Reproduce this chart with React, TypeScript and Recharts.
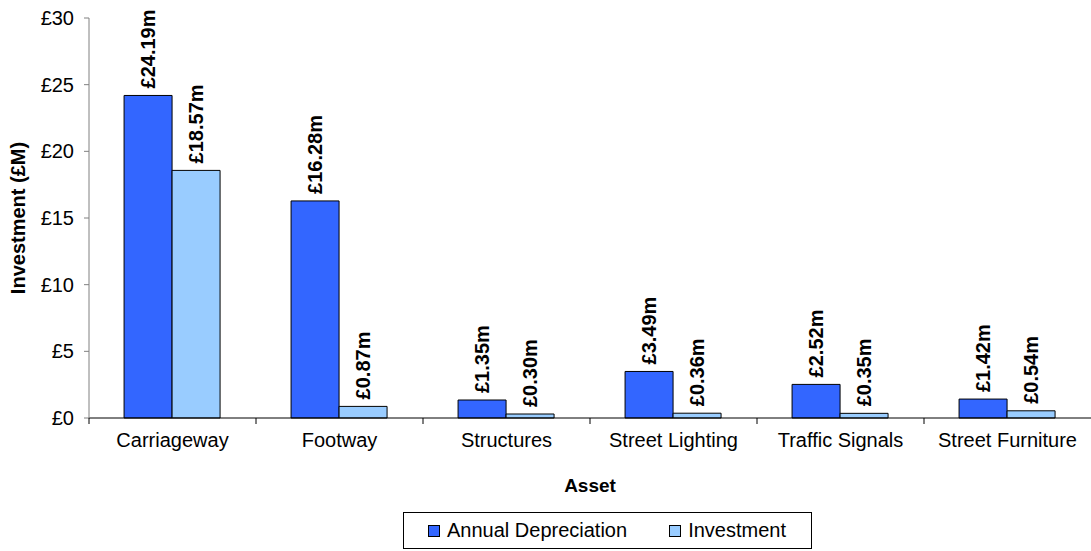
import { BarChart, Bar, XAxis, YAxis, Legend, LabelList } from 'recharts';

const assets = ['Carriageway', 'Footway', 'Structures', 'Street Lighting', 'Traffic Signals', 'Street Furniture'];
const depreciation = [24.19, 16.28, 1.35, 3.49, 2.52, 1.42];
const investment = [18.57, 0.87, 0.3, 0.36, 0.35, 0.54];
const yTicks = [0, 5, 10, 15, 20, 25, 30];

const data = assets.map((asset, i) => ({
    asset,
    depreciation: depreciation[i],
    investment: investment[i],
}));

const FONT = 'Arial, "Liberation Sans", sans-serif';
const BAND = 1002 / assets.length;

const money = (v: number) => `£${v.toFixed(2)}m`;

const RotatedLabel = (props: any) => {
    const { x, y, width, value } = props;
    const cx = x + width / 2;
    const cy = y - 7;
    return (
        <text
            x={cx}
            y={cy}
            transform={`rotate(-90, ${cx}, ${cy})`}
            textAnchor="start"
            dominantBaseline="central"
            fontFamily={FONT}
            fontSize={20}
            fontWeight="bold"
            fill="#000"
        >
            {money(value)}
        </text>
    );
};

const AssetTick = (props: any) => {
    const { x, y, payload } = props;
    const left = x - BAND / 2;
    return (
        <g>
            <line x1={left} y1={418} x2={left} y2={424} stroke="#000" />
            <text x={x} y={y + 21} textAnchor="middle" fontFamily={FONT} fontSize={20} fill="#000">
                {payload.value}
            </text>
        </g>
    );
};

const LegendBox = () => (
    <div
        style={{
            width: 407,
            height: 35,
            border: '1px solid #000',
            display: 'flex',
            alignItems: 'center',
            fontFamily: FONT,
            fontSize: 20,
            boxSizing: 'content-box',
        }}
    >
        <span style={{ width: 10, height: 10, background: '#3366FF', border: '1px solid #000', marginLeft: 24, marginRight: 7 }} />
        <span>Annual Depreciation</span>
        <span style={{ width: 10, height: 10, background: '#99CCFF', border: '1px solid #000', marginLeft: 42, marginRight: 7 }} />
        <span>Investment</span>
    </div>
);

export default function App() {
    return (
        <div style={{ width: 1091, height: 551, background: '#fff' }}>
            <style>{'body{margin:0}'}</style>
            <BarChart
                width={1091}
                height={551}
                data={data}
                margin={{ top: 18, right: 0, bottom: 53, left: 0 }}
                barCategoryGap="21%"
                barGap={0}
            >
                <XAxis
                    dataKey="asset"
                    height={80}
                    stroke="#000"
                    tickLine={false}
                    tick={<AssetTick />}
                    interval={0}
                    label={{
                        value: 'Asset',
                        position: 'insideBottom',
                        offset: 6,
                        style: { fontFamily: FONT, fontSize: 19, fontWeight: 'bold', fill: '#000' },
                    }}
                />
                <YAxis
                    width={89}
                    domain={[0, 30]}
                    ticks={yTicks}
                    interval={0}
                    stroke="#808080"
                    tickSize={5}
                    tickMargin={10}
                    tickFormatter={(v: number) => `£${v}`}
                    tick={{ fontFamily: FONT, fontSize: 20, fill: '#000' }}
                    label={{
                        value: 'Investment (£M)',
                        angle: -90,
                        position: 'insideLeft',
                        offset: 18,
                        style: { fontFamily: FONT, fontSize: 20, fontWeight: 'bold', fill: '#000', textAnchor: 'middle' },
                    }}
                />
                <Legend
                    layout="horizontal"
                    verticalAlign="middle"
                    align="center"
                    content={<LegendBox />}
                    wrapperStyle={{ left: 403, top: 512, width: 409 }}
                />
                <Bar dataKey="depreciation" name="Annual Depreciation" fill="#3366FF" stroke="#000" strokeWidth={1} isAnimationActive={false}>
                    <LabelList dataKey="depreciation" content={<RotatedLabel />} />
                </Bar>
                <Bar dataKey="investment" name="Investment" fill="#99CCFF" stroke="#000" strokeWidth={1} isAnimationActive={false}>
                    <LabelList dataKey="investment" content={<RotatedLabel />} />
                </Bar>
            </BarChart>
        </div>
    );
}
